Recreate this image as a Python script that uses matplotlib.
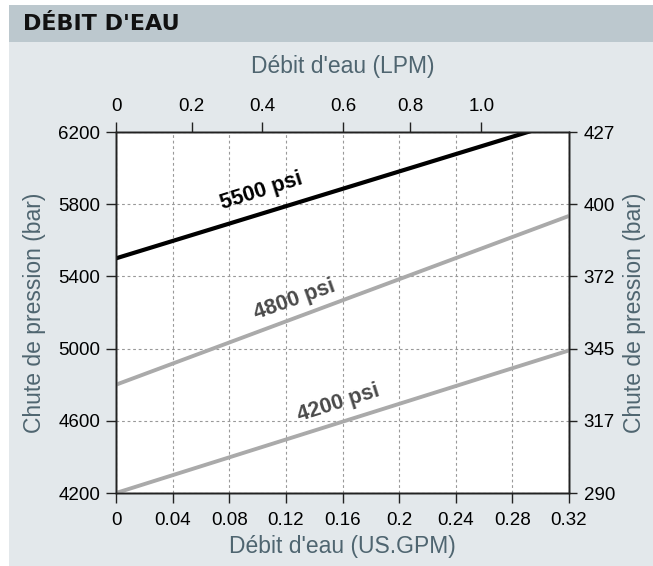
import matplotlib.pyplot as plt
from matplotlib.patches import Rectangle

# Data
gpm = [0, 0.32]
psi_5500 = [5500, 6270]
psi_4800 = [4800, 5735]
psi_4200 = [4200, 4990]

gpm_ticks = [0, 0.04, 0.08, 0.12, 0.16, 0.2, 0.24, 0.28, 0.32]
gpm_labels = ['0', '0.04', '0.08', '0.12', '0.16', '0.2', '0.24', '0.28', '0.32']
lpm_pos = [0, 0.0534, 0.1031, 0.1603, 0.2077, 0.2581]
lpm_labels = ['0', '0.2', '0.4', '0.6', '0.8', '1.0']
psi_ticks = [4200, 4600, 5000, 5400, 5800, 6200]
bar_labels = ['290', '317', '345', '372', '400', '427']

plt.rcParams['font.family'] = ['Liberation Sans', 'DejaVu Sans']

bg = '#e3e8eb'
head = '#bcc8ce'
lab = '#4f6570'
lsize = 16.5

fig = plt.figure(figsize=(6.53, 5.66), dpi=100)
fig.patch.set_facecolor('white')
fig.patches.append(Rectangle((9 / 653, 0), 1, 1 - 5 / 566, transform=fig.transFigure,
                             facecolor=bg, edgecolor='none', zorder=-2))
fig.patches.append(Rectangle((9 / 653, 1 - 42 / 566), 1, 37 / 566, transform=fig.transFigure,
                             facecolor=head, edgecolor='none', zorder=-1))
fig.text(23 / 653, 1 - 24 / 566, "DÉBIT D'EAU", fontsize=16, fontweight='bold',
         color='#111111', va='center', ha='left', family=['DejaVu Sans'])

ax = fig.add_axes([116 / 653, 73 / 566, 453 / 653, 361 / 566])
ax.set_facecolor('white')
ax.set_xlim(0, 0.32)
ax.set_ylim(4200, 6200)

ax.plot(gpm, psi_4200, color='#aaaaaa', lw=2.8, solid_capstyle='butt', zorder=3)
ax.plot(gpm, psi_4800, color='#aaaaaa', lw=2.8, solid_capstyle='butt', zorder=3)
ax.plot(gpm, psi_5500, color='black', lw=3.0, solid_capstyle='butt', zorder=3)

ax.text(0.103, 5870, '5500 psi', fontsize=15.5, fontweight='bold', color='black',
        rotation=17.5, ha='center', va='center')
ax.text(0.126, 5270, '4800 psi', fontsize=15.5, fontweight='bold', color='#4a4a4a',
        rotation=19.5, ha='center', va='center')
ax.text(0.157, 4695, '4200 psi', fontsize=15.5, fontweight='bold', color='#4a4a4a',
        rotation=17.5, ha='center', va='center')

ax.set_xticks(gpm_ticks)
ax.set_xticklabels(gpm_labels)
ax.set_yticks(psi_ticks)
ax.grid(True, color='#999999', linestyle=(0, (2.5, 2.5)), linewidth=0.8)
ax.set_axisbelow(True)
ax.tick_params(direction='out', length=7, width=1, labelsize=13.5, color='#222222')
ax.tick_params(axis='x', pad=7)
ax.tick_params(axis='y', pad=4.5)
ax.set_xlabel("Débit d'eau (US.GPM)", fontsize=lsize, color=lab, labelpad=4)
ax.set_ylabel('Chute de pression (bar)', fontsize=lsize, color=lab, labelpad=8.5)

top = ax.twiny()
top.set_xlim(ax.get_xlim())
top.set_xticks(lpm_pos)
top.set_xticklabels(lpm_labels)
top.tick_params(direction='out', length=7, width=1, labelsize=13.5, pad=5, color='#222222')
top.set_xlabel("Débit d'eau (LPM)", fontsize=lsize, color=lab, labelpad=18)

right = ax.twinx()
right.set_ylim(ax.get_ylim())
right.set_yticks(psi_ticks)
right.set_yticklabels(bar_labels)
right.tick_params(direction='out', length=6, width=1, labelsize=13.5, pad=4.5, color='#222222')
right.set_ylabel('Chute de pression (bar)', fontsize=lsize, color=lab, labelpad=6)

for a in (ax, top, right):
    for s in a.spines.values():
        s.set_color('#222222')
        s.set_linewidth(1)

fig.savefig('out.png', dpi=100)
